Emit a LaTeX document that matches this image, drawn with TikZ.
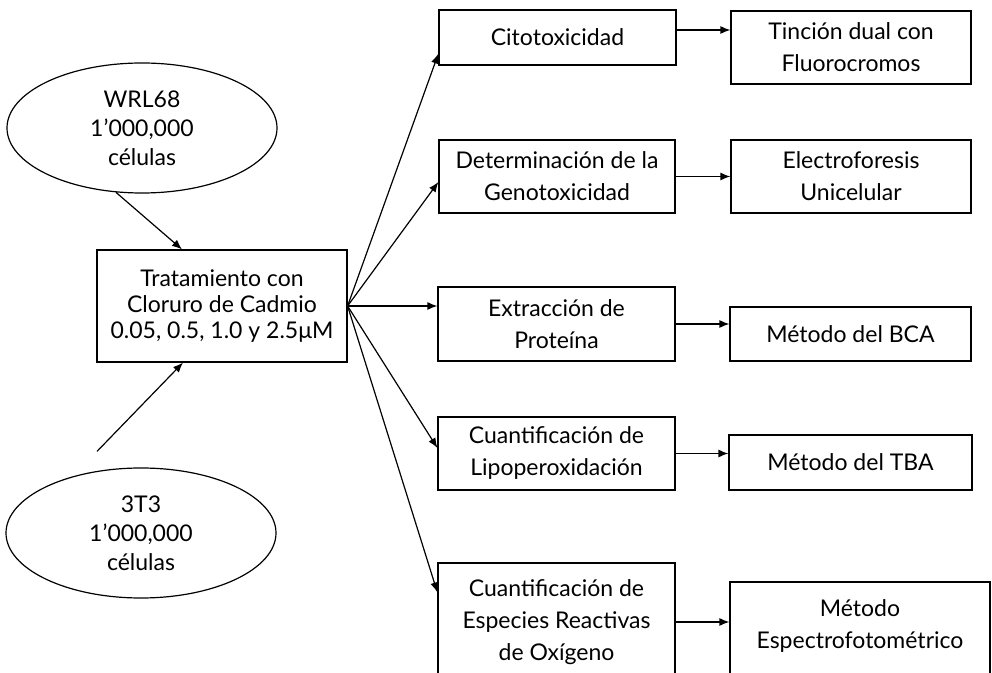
\documentclass[tikz,border=0pt]{standalone}
\usepackage{fontspec}
\setmainfont{Lato}
\usetikzlibrary{arrows.meta,shapes.geometric}
\begin{document}
\begin{tikzpicture}[x=0.5pt,y=-0.5pt,
  every node/.style={font=\fontsize{11.5}{16}\selectfont, align=center, inner sep=0pt},
  box/.style={draw, line width=0.6pt, rectangle},
  oval/.style={draw, line width=0.6pt, ellipse, minimum width=135pt, minimum height=65pt, font=\fontsize{11.5}{14.5}\selectfont},
  arr/.style={-{Latex[length=5pt,width=4pt]}, line width=0.6pt}]
\useasboundingbox (0,0) rectangle (992,673);

\node[oval] (wrl) at (142,128) {WRL68\\1’000,000\\células};
\node[oval] (t3) at (141,533) {3T3\\1’000,000\\células};
\node[box, minimum width=125pt, minimum height=56pt, font=\fontsize{11.5}{13}\selectfont] (treat) at (222,306) {Tratamiento con\\Cloruro de Cadmio\\0.05, 0.5, 1.0 y 2.5μM};

\node[box, minimum width=118.5pt, minimum height=27.5pt] (cito) at (557.5,37.5) {Citotoxicidad};
\node[box, minimum width=118pt, minimum height=36.5pt] (geno) at (557,176.5) {Determinación de la\\Genotoxicidad};
\node[box, minimum width=118.5pt, minimum height=37pt] (extr) at (556.5,324) {Extracción de\\Proteína};
\node[box, minimum width=118.5pt, minimum height=36.5pt] (lipo) at (556.5,453.5) {Cuantificación de\\Lipoperoxidación};
\node[box, minimum width=118.5pt, minimum height=59pt] (espe) at (556.5,622) {Cuantificación de\\Especies Reactivas\\de Oxígeno};

\node[box, minimum width=120pt, minimum height=36.5pt] (tinc) at (851,47.5) {Tinción dual con\\Fluorocromos};
\node[box, minimum width=120pt, minimum height=36.5pt] (elec) at (851,176.5) {Electroforesis\\Unicelular};
\node[box, minimum width=120.5pt, minimum height=27pt] (bca) at (850.5,334) {Método del BCA};
\node[box, minimum width=121.5pt, minimum height=27.5pt] (tba) at (850.5,462.5) {Método del TBA};
\node[box, minimum width=130pt, minimum height=58pt] (espf) at (860,640) {Método\\Espectrofotométrico\\~};

\draw[arr] (wrl.-112) -- ([xshift=-20pt]treat.north);
\coordinate (t3start) at ([shift={(-22pt,8pt)}]t3.north);
\draw[arr] (t3start) -- ([xshift=-19.5pt]treat.south);

\coordinate (fan) at (treat.east);
\draw[arr] (fan) -- ([yshift=6pt]cito.south west);
\draw[arr] (fan) -- ([yshift=-2.75pt]geno.west);
\draw[arr] (fan) -- (fan -| extr.west);
\draw[arr] (fan) -- ([yshift=2.75pt]lipo.west);
\draw[arr] (fan) -- ([yshift=-15pt]espe.north west);

\coordinate (c1) at ([yshift=3.75pt]cito.east);
\draw[arr] (c1) -- (c1 -| tinc.west);
\draw[arr] (geno.east) -- (geno.east -| elec.west);
\draw[arr] (extr.east) -- (extr.east -| bca.west);
\draw[arr] (lipo.east) -- (lipo.east -| tba.west);
\draw[arr] (espe.east) -- (espe.east -| espf.west);
\end{tikzpicture}
\end{document}
